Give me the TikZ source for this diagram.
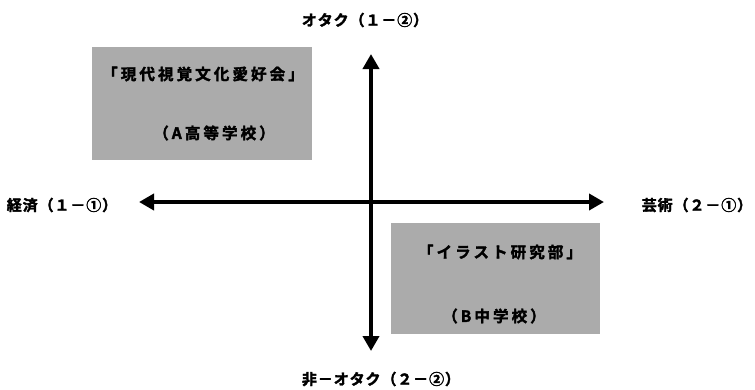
\documentclass[tikz,border=0pt]{standalone}
\usepackage{fontspec}
\setmainfont{Noto Sans CJK JP}
\newfontfamily\jpbold[LetterSpace=6,FakeBold=2.2]{Noto Sans CJK JP Bold}
\newfontfamily\jpboldwide[LetterSpace=20,FakeBold=2.2]{Noto Sans CJK JP Bold}
\usetikzlibrary{arrows.meta}
\tikzset{
  axislabel/.style={font=\jpbold\fontsize{15}{17}\selectfont, inner sep=0pt, anchor=center},
  boxtext/.style={font=\jpboldwide\fontsize{15.5}{17}\selectfont, inner sep=0pt, anchor=center},
  quadbox/.style={fill=black!33, draw=none},
  axis/.style={line width=4pt, {Triangle[length=15pt,width=16pt]}-{Triangle[length=15pt,width=16pt]}}
}
\begin{document}
\begin{tikzpicture}[x=1pt,y=-1pt]
\useasboundingbox (0,0) rectangle (755,389);
% quadrant boxes
\path[quadbox] (92,47) rectangle (312,160);
\path[quadbox] (391,223) rectangle (600,334);
% box texts
\node[boxtext] (t1) at (203,74) {「現代視覚文化愛好会」};
\node[boxtext] (t2) at (214,133) {（A高等学校）};
\node[boxtext] (t3) at (500,252) {「イラスト研究部」};
\node[boxtext] (t4) at (494,316) {（B中学校）};
% axis end points
\coordinate (top) at (371,54);
\coordinate (bottom) at (371,351);
\coordinate (left) at (139,202);
\coordinate (right) at (604,202);
\draw[axis] (bottom) -- (top);
\draw[axis] (left) -- (right);
% axis labels
\node[axislabel] (otaku) at (365,20) {オタク（１－②）};
\node[axislabel] (nonotaku) at (381,379) {非－オタク（２－②）};
\node[axislabel] (keizai) at (62,205) {経済（１－①）};
\node[axislabel] (geijutsu) at (697,205) {芸術（２－①）};
\end{tikzpicture}
\end{document}
